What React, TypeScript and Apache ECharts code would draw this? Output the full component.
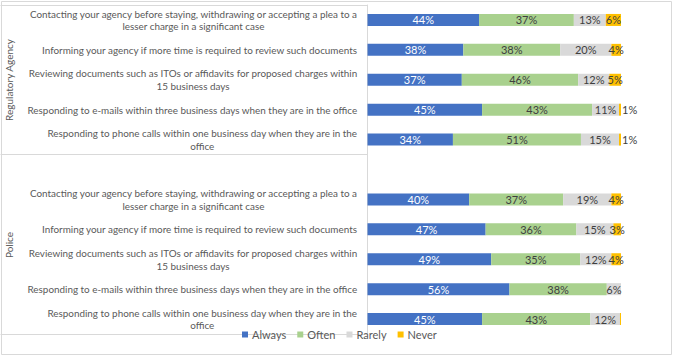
import React, { useEffect, useRef } from 'react';
import * as echarts from 'echarts';

const groupNames = ['Regulatory Agency', 'Police'];
const regulatoryItems = [
  'Contacting your agency before staying, withdrawing or accepting a plea to a\nlesser charge in a significant case',
  'Informing your agency if more time is required to review such documents',
  'Reviewing documents such as ITOs or affidavits for proposed charges within\n15 business days',
  'Responding to e-mails within three business days when they are in the office',
  'Responding to phone calls within one business day when they are in the\noffice',
];
const policeItems = [
  'Contacting your agency before staying, withdrawing or accepting a plea to a\nlesser charge in a significant case',
  'Informing your agency if more time is required to review such documents',
  'Reviewing documents such as ITOs or affidavits for proposed charges within\n15 business days',
  'Responding to e-mails within three business days when they are in the office',
  'Responding to phone calls within one business day when they are in the\noffice',
];
const categories = [...regulatoryItems, '', ...policeItems];

const seriesNames = ['Always', 'Often', 'Rarely', 'Never'];
const seriesColors = ['#4472C4', '#A9D18E', '#D9D9D9', '#FFC000'];

const regAlways = [44.0, 37.8, 37.2, 45.2, 33.7];
const regOften = [37.4, 38.2, 45.9, 43.4, 50.5];
const regRarely = [12.6, 20.2, 12.3, 10.6, 15.0];
const regNever = [6.0, 3.8, 4.6, 0.8, 0.8];

const polAlways = [40.1, 46.6, 48.8, 56.0, 45.2];
const polOften = [37.1, 35.8, 35.1, 38.4, 42.7];
const polRarely = [19.0, 14.6, 12.3, 5.6, 11.7];
const polNever = [3.8, 3.0, 3.8, 0, 0.4];

const FONT = 'Lato';

export default function App() {
  const ref = useRef<HTMLDivElement>(null);
  useEffect(() => {
    document.body.style.margin = '0';
    if (!ref.current) return;
    const chart = echarts.init(ref.current, undefined, { renderer: 'svg' });
    const reg = [regAlways, regOften, regRarely, regNever];
    const pol = [polAlways, polOften, polRarely, polNever];
    const series = seriesNames.map((name, i) => {
      const vals: (number | null)[] = [...reg[i], null, ...pol[i]];
      return {
        name,
        type: 'bar',
        stack: 'total',
        barWidth: 12,
        itemStyle: { color: seriesColors[i] },
        label: {
          show: true,
          position: 'inside',
          fontFamily: FONT,
          fontSize: 11,
          color: i === 0 ? '#ffffff' : '#404040',
          formatter: (p: any) => (p.value >= 0.5 ? Math.round(p.value) + '%' : ''),
        },
        data: vals.map((v) =>
          v !== null && v < 2
            ? { value: v, label: { position: 'right', distance: 1 } }
            : v
        ),
      };
    });
    chart.setOption({
      animation: false,
      color: seriesColors,
      grid: { left: 367.5, right: 52, top: 5, bottom: 22, containLabel: false },
      xAxis: { type: 'value', min: 0, max: 100, show: false },
      yAxis: {
        type: 'category',
        inverse: true,
        data: categories,
        axisLine: { show: true, lineStyle: { color: '#d9d9d9' } },
        axisTick: {
          show: true,
          length: 367,
          interval: (index: number) => index === 0 || index === 5,
          lineStyle: { color: '#d9d9d9' },
        },
        axisLabel: {
          interval: 0,
          margin: 10,
          align: 'right',
          formatter: (v: string) =>
            v
              .split('\n')
              .map((l) => '{c|' + l + '}')
              .join('\n'),
          rich: {
            c: {
              align: 'center',
              fontFamily: FONT,
              fontSize: 9.9,
              lineHeight: 12.7,
              color: '#595959',
            },
          },
        },
      },
      legend: {
        data: seriesNames,
        left: 242,
        top: 329,
        padding: 0,
        icon: 'rect',
        itemWidth: 6,
        itemHeight: 6,
        itemGap: 11,
        textStyle: { fontFamily: FONT, fontSize: 11, color: '#595959', padding: [0, 0, 0, -1] },
      },
      graphic: [
        {
          type: 'rect',
          shape: { x: 1.5, y: 1.5, width: 670, height: 353 },
          style: { fill: 'none', stroke: '#d9d9d9', lineWidth: 1 },
          silent: true,
        },
        {
          type: 'text',
          x: 9,
          y: 80,
          rotation: Math.PI / 2,
          style: {
            text: groupNames[0],
            align: 'center',
            verticalAlign: 'middle',
            fontFamily: FONT,
            fontSize: 10,
            fill: '#595959',
          },
        },
        {
          type: 'text',
          x: 9,
          y: 245,
          rotation: Math.PI / 2,
          style: {
            text: groupNames[1],
            align: 'center',
            verticalAlign: 'middle',
            fontFamily: FONT,
            fontSize: 10,
            fill: '#595959',
          },
        },
      ],
      series,
    });
    return () => chart.dispose();
  }, []);
  return <div ref={ref} style={{ width: 673, height: 356 }} />;
}
